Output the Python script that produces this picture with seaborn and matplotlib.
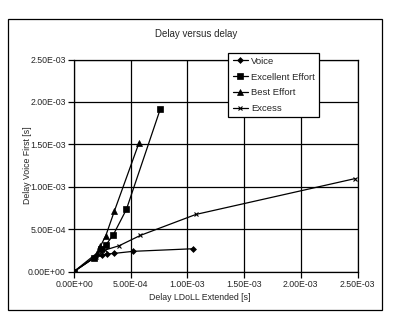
import matplotlib
matplotlib.use("Agg")
import matplotlib.pyplot as plt
from matplotlib.lines import Line2D
from matplotlib.patches import Rectangle
import seaborn as sns
import pandas as pd

# Measured delays [s]: x = LDoLL Extended, y = Voice First
voice_x = [0.0, 1.86e-4, 2.45e-4, 2.89e-4, 3.56e-4, 5.24e-4, 1.045e-3]
voice_y = [0.0, 1.74e-4, 1.94e-4, 2.06e-4, 2.14e-4, 2.38e-4, 2.68e-4]

excellent_x = [0.0, 1.79e-4, 2.36e-4, 2.80e-4, 3.45e-4, 4.62e-4, 7.60e-4]
excellent_y = [0.0, 1.62e-4, 2.61e-4, 3.12e-4, 4.29e-4, 7.32e-4, 1.912e-3]

best_x = [0.0, 2.00e-4, 2.32e-4, 2.80e-4, 3.56e-4, 5.74e-4]
best_y = [0.0, 2.14e-4, 2.96e-4, 4.21e-4, 7.12e-4, 1.52e-3]

excess_x = [0.0, 1.92e-4, 2.74e-4, 3.98e-4, 5.86e-4, 1.075e-3, 2.48e-3]
excess_y = [0.0, 1.74e-4, 2.53e-4, 3.04e-4, 4.26e-4, 6.73e-4, 1.096e-3]

series_names = ["Voice", "Excellent Effort", "Best Effort", "Excess"]
tick_values = [0.0, 5.0e-4, 1.0e-3, 1.5e-3, 2.0e-3, 2.5e-3]
tick_labels = ["0.00E+00", "5.00E-04", "1.00E-03", "1.50E-03", "2.00E-03", "2.50E-03"]

frames = []
for name, xs, ys in zip(series_names,
                        [voice_x, excellent_x, best_x, excess_x],
                        [voice_y, excellent_y, best_y, excess_y]):
    frames.append(pd.DataFrame({"x": xs, "y": ys, "series": name}))
df = pd.concat(frames, ignore_index=True)

sns.set_style("white")
plt.rcParams["font.family"] = ["Liberation Sans", "DejaVu Sans"]

W, H = 393, 322
fig = plt.figure(figsize=(W / 100, H / 100), dpi=100)
ax = fig.add_axes([74 / W, 1 - 271.5 / H, (357.5 - 74) / W, (271.5 - 59.5) / H])

marker_map = {"Voice": "D", "Excellent Effort": "s", "Best Effort": "^", "Excess": "x"}
size_map = {"Voice": 3.0, "Excellent Effort": 4.3, "Best Effort": 3.8, "Excess": 3.5}
edge_map = {"Voice": 0.5, "Excellent Effort": 0.5, "Best Effort": 0.5, "Excess": 0.8}

for name in series_names:
    sub = df[df["series"] == name]
    sns.lineplot(data=sub, x="x", y="y", color="black", marker=marker_map[name],
                 markersize=size_map[name], markeredgewidth=edge_map[name],
                 markeredgecolor="black", linewidth=0.9, estimator=None, sort=False,
                 ax=ax, legend=False)

ax.set_xlim(0, 2.5e-3)
ax.set_ylim(0, 2.5e-3)
ax.set_xticks(tick_values)
ax.set_yticks(tick_values)
ax.set_xticklabels(tick_labels, fontsize=6.3)
ax.set_yticklabels(tick_labels, fontsize=6.3)
ax.tick_params(axis="both", direction="out", length=4, width=0.9, color="black",
               pad=2, bottom=True, left=True)
ax.grid(True, color="black", linewidth=0.9)
for s in ax.spines.values():
    s.set_color("black")
    s.set_linewidth(0.9)
    s.set_visible(True)
ax.set_xlabel("")
ax.set_ylabel("")

fig.text(200 / W, 1 - 297 / H, "Delay LDoLL Extended [s]", fontsize=6.3,
         ha="center", va="center")
fig.text(28 / W, 1 - 165 / H, "Delay Voice First [s]", fontsize=6.3,
         ha="center", va="center", rotation=90)
fig.text(196 / W, 1 - 34 / H, "Delay versus delay", fontsize=7,
         ha="center", va="center")

# Outer chart border
fig.patches.append(Rectangle((7.5 / W, 1 - 309.5 / H), (382 - 7.5) / W, (309.5 - 18.5) / H,
                             transform=fig.transFigure, fill=False,
                             edgecolor="black", linewidth=0.9))

handles = [Line2D([0], [0], color="black", linewidth=0.9, marker=marker_map[n],
                  markersize=size_map[n], markeredgewidth=edge_map[n])
           for n in series_names]
leg = fig.legend(handles, series_names, loc="upper left",
                 bbox_to_anchor=(228.5 / W, 1 - 52.5 / H), fontsize=6.8,
                 frameon=True, fancybox=False, edgecolor="black", framealpha=1,
                 handlelength=1.6, handletextpad=0.35, labelspacing=0.72,
                 borderpad=0.45, borderaxespad=0)
leg.get_frame().set_linewidth(0.9)

fig.savefig("out.png", dpi=100, facecolor="white")
